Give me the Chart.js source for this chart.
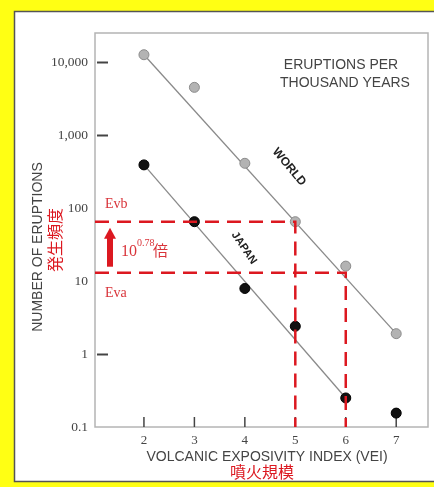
<!DOCTYPE html>
<html>
<head>
<meta charset="utf-8">
<script src="https://cdn.jsdelivr.net/npm/chart.js@4"></script>
<style>
  html, body { margin: 0; padding: 0; background: #ffff00; }
  canvas { display: block; }
</style>
</head>
<body>
<canvas id="myChart" width="434" height="487"></canvas>
<script>
  // values
  var vei = [2, 3, 4, 5, 6, 7];
  var world = [12600, 4500, 410, 65, 16, 1.9];
  var japan = [390, 65, 7.9, 2.4, 0.25, 0.155];

  // fitted lines (end points)
  var worldFitVei = [2, 7];
  var worldFit = [12600, 1.9];
  var japanFitVei = [2, 6];
  var japanFit = [390, 0.25];

  // red reference levels
  var evb = 65, evbVei = 5;
  var eva = 13, evaVei = 6;

  var yTicks = [0.1, 1, 10, 100, 1000, 10000];
  var xTicks = [2, 3, 4, 5, 6, 7];
  var yMarks = [10000, 1000, 1];

  var xMin = 1.03, xMax = 7.63, yMin = 0.1, yMax = 25000;

  function pts(xs, ys) { return xs.map((x, i) => ({ x: x, y: ys[i] })); }

  var red = '#dc1820';
  var tickFont = '"Liberation Serif", "DejaVu Serif", serif';

  // frame, box, ticks and labels
  var decor = {
    id: 'decor',
    beforeDraw(chart) {
      var c = chart.ctx;
      c.save();
      c.fillStyle = '#ffff14';
      c.fillRect(0, 0, 434, 487);
      c.fillStyle = '#ffffff';
      c.fillRect(14, 11, 420, 471);
      c.strokeStyle = '#555';
      c.lineWidth = 1.5;
      c.beginPath();
      c.moveTo(434, 11.5); c.lineTo(14.5, 11.5); c.lineTo(14.5, 481.5); c.lineTo(434, 481.5);
      c.stroke();
      c.restore();
    },
    beforeDatasetsDraw(chart) {
      var c = chart.ctx, a = chart.chartArea, xs = chart.scales.x, ys = chart.scales.y;
      c.save();
      c.strokeStyle = '#b4b4b4';
      c.lineWidth = 1.5;
      c.strokeRect(a.left, a.top, a.right - a.left, a.bottom - a.top);
      c.strokeStyle = '#444';
      c.lineWidth = 2;
      yMarks.forEach(v => {
        var y = Math.round(ys.getPixelForValue(v)) + 0.5;
        c.beginPath(); c.moveTo(a.left + 2, y); c.lineTo(a.left + 13, y); c.stroke();
      });
      c.lineWidth = 1.5;
      xTicks.forEach(v => {
        var x = xs.getPixelForValue(v);
        c.beginPath(); c.moveTo(x, a.bottom - 10); c.lineTo(x, a.bottom); c.stroke();
      });
      c.restore();
    },
    afterDraw(chart) {
      var c = chart.ctx, xs = chart.scales.x, ys = chart.scales.y;
      c.save();
      c.textAlign = 'center';
      c.textBaseline = 'middle';
      c.fillStyle = '#444';
      c.font = '14px "Liberation Sans", Arial, sans-serif';
      c.fillText('ERUPTIONS PER', 341, 65);
      c.fillText('THOUSAND YEARS', 345, 83);
      c.fillText('VOLCANIC EXPOSIVITY INDEX (VEI)', 267, 457);

      c.save();
      c.translate(38, 247);
      c.rotate(-Math.PI / 2);
      c.font = '14px "Liberation Sans", Arial, sans-serif';
      c.fillText('NUMBER OF ERUPTIONS', 0, 0);
      c.restore();

      c.fillStyle = red;
      c.font = '16px "Noto Sans CJK JP", sans-serif';
      c.fillText('噴火規模', 262, 472);
      c.save();
      c.translate(55, 240);
      c.rotate(-Math.PI / 2);
      c.fillText('発生頻度', 0, 0);
      c.restore();

      // Evb / Eva
      c.textAlign = 'left';
      c.fillStyle = '#d9343a';
      c.font = '14px ' + tickFont;
      c.fillText('Evb', 105, ys.getPixelForValue(evb) - 17);
      c.fillText('Eva', 105, ys.getPixelForValue(eva) + 21);

      // arrow
      var yTop = ys.getPixelForValue(evb) + 6, yBot = ys.getPixelForValue(eva) - 6;
      c.fillStyle = red;
      c.fillRect(107, yTop + 9, 6, yBot - yTop - 9);
      c.beginPath();
      c.moveTo(110, yTop); c.lineTo(116, yTop + 11); c.lineTo(104, yTop + 11); c.closePath();
      c.fill();

      // 10^0.78 倍
      c.fillStyle = '#d9343a';
      c.textBaseline = 'alphabetic';
      c.font = '16px ' + tickFont;
      c.fillText('10', 121, 256);
      c.font = '10px ' + tickFont;
      c.fillText('0.78', 137, 246);
      c.font = '15px "Noto Sans CJK JP", sans-serif';
      c.fillText('倍', 153, 256);

      // series names
      c.fillStyle = '#222';
      c.textAlign = 'center';
      c.textBaseline = 'middle';
      c.font = 'bold 12px "Liberation Sans", Arial, sans-serif';
      c.save();
      c.translate(289, 167); c.rotate(50 * Math.PI / 180);
      c.fillText('WORLD', 0, 0);
      c.restore();
      c.font = 'bold 11px "Liberation Sans", Arial, sans-serif';
      c.save();
      c.translate(244, 248); c.rotate(56 * Math.PI / 180);
      c.fillText('JAPAN', 0, 0);
      c.restore();
      c.restore();
    }
  };

  var ctx = document.getElementById('myChart').getContext('2d');

  var myChart = new Chart(ctx, {
    type: 'line',
    data: {
      datasets: [
        {
          data: [{ x: xMin, y: evb }, { x: evbVei, y: evb }, { x: evbVei, y: yMin }],
          borderColor: red, borderWidth: 2.5, borderDash: [14, 8],
          pointRadius: 0, order: 0
        },
        {
          data: [{ x: xMin, y: eva }, { x: evaVei, y: eva }, { x: evaVei, y: yMin }],
          borderColor: red, borderWidth: 2.5, borderDash: [14, 8],
          pointRadius: 0, order: 0
        },
        {
          data: pts(vei, world),
          showLine: false,
          pointRadius: 5, pointBackgroundColor: '#b3b3b3', pointBorderColor: '#8c8c8c', pointBorderWidth: 1,
          order: 1
        },
        {
          data: pts(vei, japan),
          showLine: false,
          pointRadius: 5, pointBackgroundColor: '#111', pointBorderColor: '#000', pointBorderWidth: 1,
          order: 1
        },
        {
          data: pts(worldFitVei, worldFit),
          borderColor: '#8a8a8a', borderWidth: 1.3, pointRadius: 0, order: 2
        },
        {
          data: pts(japanFitVei, japanFit),
          borderColor: '#8a8a8a', borderWidth: 1.3, pointRadius: 0, order: 2
        }
      ]
    },
    options: {
      responsive: false,
      animation: false,
      layout: { padding: { top: 33, left: 0, right: 6, bottom: 0 } },
      plugins: { legend: { display: false }, tooltip: { enabled: false } },
      scales: {
        x: {
          type: 'linear',
          min: xMin, max: xMax,
          grid: { display: false, drawTicks: false },
          border: { display: false },
          afterBuildTicks: s => { s.ticks = xTicks.map(v => ({ value: v })); },
          afterFit: s => { s.height = 60; },
          ticks: {
            padding: 6,
            color: '#444',
            font: { family: tickFont, size: 13 },
            callback: v => String(v)
          }
        },
        y: {
          type: 'logarithmic',
          min: yMin, max: yMax,
          grid: { display: false, drawTicks: false },
          border: { display: false },
          afterBuildTicks: s => { s.ticks = yTicks.map(v => ({ value: v })); },
          afterFit: s => { s.width = 95; },
          ticks: {
            padding: 7,
            color: '#444',
            font: { family: tickFont, size: 13.5 },
            callback: v => v.toLocaleString('en-US')
          }
        }
      }
    },
    plugins: [decor]
  });
</script>
</body>
</html>
